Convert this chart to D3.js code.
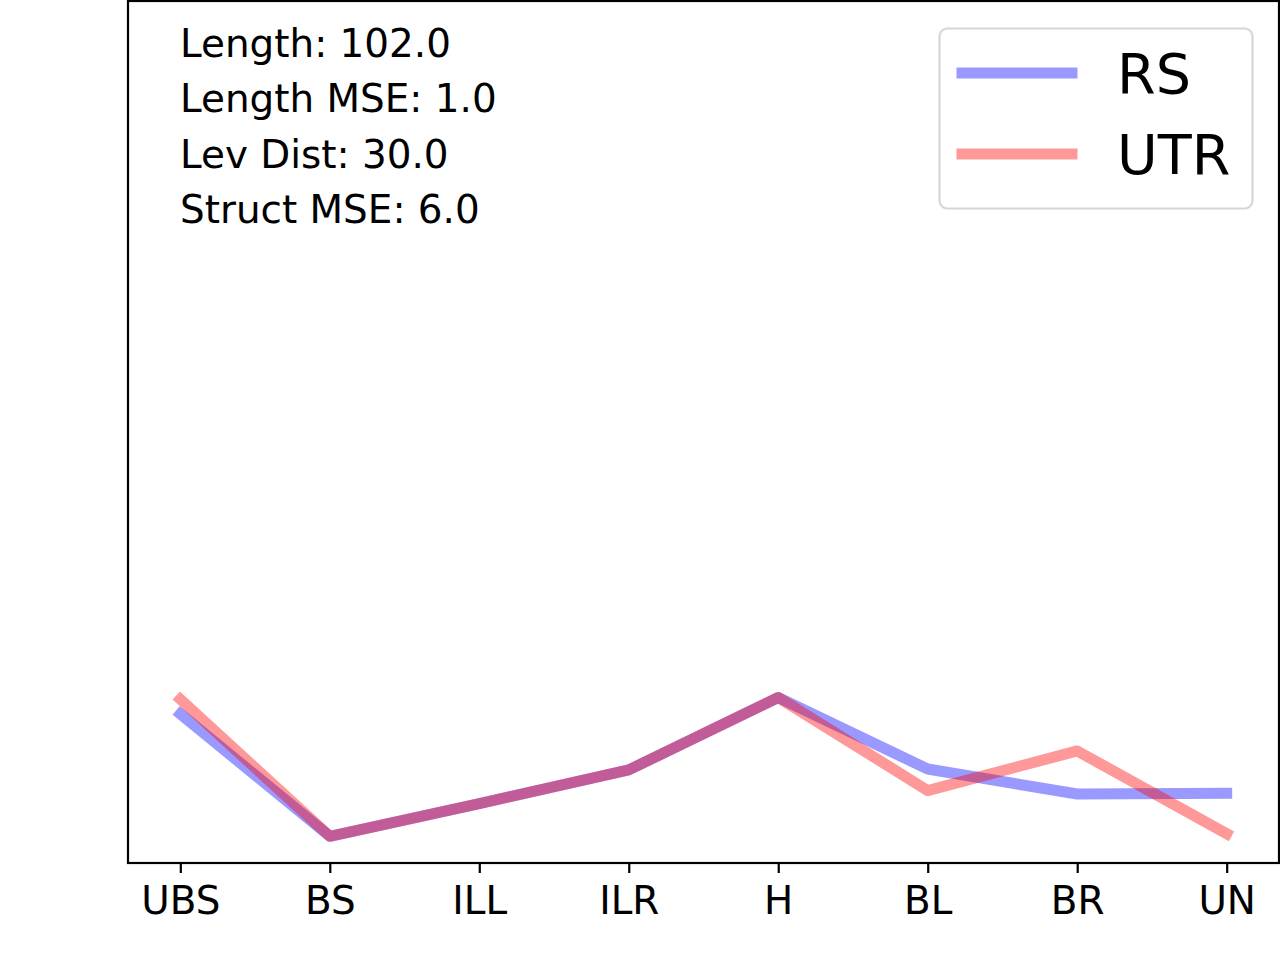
<!DOCTYPE html>
<html>
<head>
<meta charset="utf-8">
<script src="https://cdn.jsdelivr.net/npm/d3@7"></script>
<style>
  body { margin: 0; background: #fff; }
  text { font-family: "DejaVu Sans", sans-serif; }
</style>
</head>
<body>
<div id="vis"></div>
<script>
// categories along the x axis
let categories = ['UBS', 'BS', 'ILL', 'ILR', 'H', 'BL', 'BR', 'UN'];

// series values (y range 0..1)
let rsValues  = [0.173, 0.031, 0.069, 0.108, 0.192, 0.109, 0.080, 0.081];
let utrValues = [0.190, 0.031, 0.069, 0.108, 0.192, 0.084, 0.130, 0.034];

let seriesNames = ['RS', 'UTR'];
let seriesColors = ['blue', 'red'];

let infoLines = ['Length: 102.0', 'Length MSE: 1.0', 'Lev Dist: 30.0', 'Struct MSE: 6.0'];

let W = 1280, H = 960;
let margin = { top: 1, left: 128, right: 1, bottom: 97 };

let svg = d3.select('#vis')
  .append('svg')
  .attr('width', W)
  .attr('height', H);

let x = d3.scalePoint()
  .domain(categories)
  .range([margin.left, W - margin.right])
  .padding(0.35);

let y = d3.scaleLinear()
  .domain([0, 1])
  .range([H - margin.bottom, margin.top]);

// lines
let line = d3.line()
  .x((d, i) => x(categories[i]))
  .y(d => y(d));

[rsValues, utrValues].forEach((vals, k) => {
  svg.append('path')
    .datum(vals)
    .attr('d', line)
    .attr('fill', 'none')
    .attr('stroke', seriesColors[k])
    .attr('stroke-opacity', 0.4)
    .attr('stroke-width', 11)
    .attr('stroke-linejoin', 'round')
    .attr('stroke-linecap', 'square');
});

// frame
svg.append('rect')
  .attr('x', margin.left)
  .attr('y', margin.top)
  .attr('width', W - margin.left - margin.right)
  .attr('height', H - margin.top - margin.bottom)
  .attr('fill', 'none')
  .attr('stroke', 'black')
  .attr('stroke-width', 2.2);

// x axis
let xAxis = svg.append('g')
  .attr('transform', `translate(0,${H - margin.bottom})`)
  .call(d3.axisBottom(x).tickSize(10).tickPadding(13));
xAxis.select('.domain').remove();
xAxis.selectAll('line').attr('stroke', 'black').attr('stroke-width', 2.2);
xAxis.selectAll('text')
  .attr('font-size', 38.9)
  .attr('font-family', '"DejaVu Sans", sans-serif')
  .attr('fill', 'black');

// info text
svg.append('g')
  .selectAll('text')
  .data(infoLines)
  .join('text')
  .attr('x', 180)
  .attr('y', (d, i) => 57 + i * 55.3)
  .attr('font-size', 38.9)
  .attr('fill', 'black')
  .text(d => d);

// legend
let legend = svg.append('g');
legend.append('rect')
  .attr('x', 939.5)
  .attr('y', 28.5)
  .attr('width', 313)
  .attr('height', 180)
  .attr('rx', 8)
  .attr('fill', 'white')
  .attr('fill-opacity', 0.8)
  .attr('stroke', '#d6d6d6')
  .attr('stroke-width', 2.2);

seriesNames.forEach((name, k) => {
  let ly = 73 + k * 81;
  legend.append('line')
    .attr('x1', 962).attr('x2', 1072)
    .attr('y1', ly).attr('y2', ly)
    .attr('stroke', seriesColors[k])
    .attr('stroke-opacity', 0.4)
    .attr('stroke-width', 11)
    .attr('stroke-linecap', 'square');
  legend.append('text')
    .attr('x', 1117)
    .attr('y', ly + 20)
    .attr('font-size', 55.6)
    .attr('fill', 'black')
    .text(name);
});
</script>
</body>
</html>
